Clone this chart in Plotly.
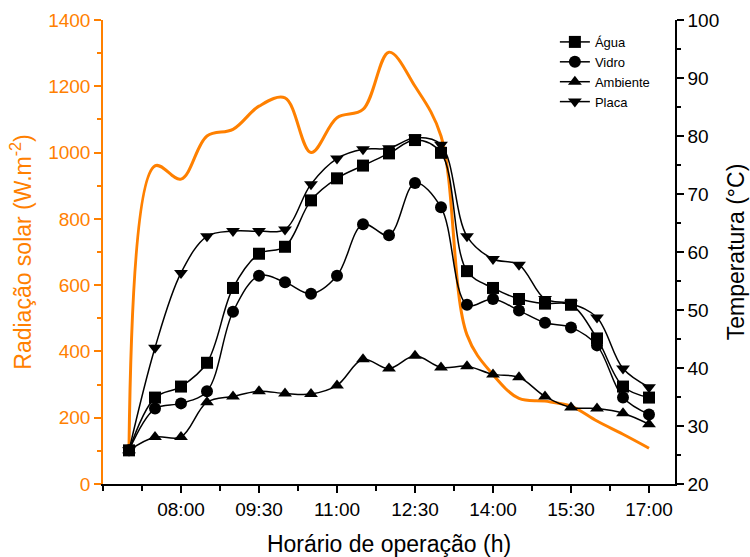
import plotly.graph_objects as go

# time in hours (07:00 .. 17:00, every 30 min)
hours = [7.0, 7.5, 8.0, 8.5, 9.0, 9.5, 10.0, 10.5, 11.0, 11.5, 12.0, 12.5,
         13.0, 13.5, 14.0, 14.5, 15.0, 15.5, 16.0, 16.5, 17.0]

radiacao = [108, 960, 920, 1050, 1070, 1140, 1165, 1000, 1105, 1130, 1303, 1200,
            1050, 450, 330, 258, 250, 235, 190, 150, 108]

agua = [25.8, 34.9, 36.8, 40.9, 53.8, 59.7, 60.9, 68.9, 72.7, 74.9, 77.0, 79.3,
        77.1, 56.7, 53.8, 51.9, 51.1, 50.9, 45.1, 36.8, 34.9]
vidro = [25.8, 33.0, 33.9, 36.0, 49.7, 55.9, 54.8, 52.8, 55.9, 64.8, 62.9, 71.9,
         67.7, 50.9, 51.9, 49.9, 47.8, 47.0, 43.9, 34.9, 32.0]
ambiente = [25.8, 28.1, 28.1, 34.1, 35.1, 36.0, 35.6, 35.5, 37.0, 41.5, 39.9, 42.1,
            40.1, 40.3, 38.9, 38.4, 35.1, 33.2, 33.0, 32.2, 30.3]
placa = [25.8, 43.5, 56.4, 62.7, 63.6, 63.6, 63.9, 71.7, 76.1, 77.7, 77.9, 79.7,
         78.5, 62.7, 58.8, 57.8, 51.9, 51.1, 48.7, 39.9, 36.7]

x_tickvals = [8.0, 9.5, 11.0, 12.5, 14.0, 15.5, 17.0]
x_ticktext = ["08:00", "09:30", "11:00", "12:30", "14:00", "15:30", "17:00"]
x_minorvals = [6.5, 7.25, 8.75, 10.25, 11.75, 13.25, 14.75, 16.25]

ORANGE = "#FF8000"
FONT = "Arial, Liberation Sans, sans-serif"

fig = go.Figure()

fig.add_trace(go.Scatter(
    x=hours, y=radiacao, mode="lines", name="Radiação",
    line=dict(color=ORANGE, width=3, shape="spline", smoothing=1.0),
    showlegend=False, xaxis="x", yaxis="y"))

series = [("Água", agua, "square"), ("Vidro", vidro, "circle"),
          ("Ambiente", ambiente, "triangle-up"), ("Placa", placa, "triangle-down")]
for name, vals, sym in series:
    fig.add_trace(go.Scatter(
        x=hours, y=vals, mode="lines+markers", name=name,
        line=dict(color="black", width=1.5, shape="spline", smoothing=1.0),
        marker=dict(symbol=sym, size=12, color="black"),
        xaxis="x", yaxis="y2"))

fig.update_layout(
    width=750, height=557,
    margin=dict(l=103, r=75, t=20, b=73, autoexpand=False),
    paper_bgcolor="white", plot_bgcolor="white",
    font=dict(family=FONT, size=19, color="black"),
    xaxis=dict(
        range=[6.5, 17.5], tickvals=x_tickvals, ticktext=x_ticktext, automargin=False,
        ticks="outside", ticklen=7, tickwidth=1.5, tickcolor="black",
        minor=dict(tickvals=x_minorvals, ticks="outside", ticklen=5, tickwidth=1.5, tickcolor="black"),
        showline=True, linecolor="black", linewidth=1.5, showgrid=False, zeroline=False,
        title=dict(text="Horário de operação (h)", font=dict(size=23), standoff=17),
    ),
    xaxis2=dict(
        overlaying="x", side="top", anchor="y", range=[0, 10], dtick=1, automargin=False,
        ticks="inside", ticklen=6, tickwidth=1.5, tickcolor="black",
        showticklabels=False, showline=True, linecolor="black", linewidth=1.5,
        showgrid=False, zeroline=False,
    ),
    yaxis=dict(
        range=[0, 1400], dtick=200, ticks="outside", ticklen=7, tickwidth=1.5, automargin=False,
        tickcolor=ORANGE, tickfont=dict(color=ORANGE),
        minor=dict(dtick=100, ticks="outside", ticklen=4, tickwidth=1.5, tickcolor=ORANGE),
        showline=True, linecolor=ORANGE, linewidth=1.5, showgrid=False, zeroline=False,
        title=dict(text="Radiação solar (W.m<sup>-2</sup>)", font=dict(size=23, color=ORANGE), standoff=10),
    ),
    yaxis2=dict(
        overlaying="y", side="right", anchor="x", range=[20, 100], dtick=10, automargin=False,
        ticks="outside", ticklen=7, tickwidth=1.5, tickcolor="black",
        minor=dict(dtick=5, ticks="outside", ticklen=4, tickwidth=1.5, tickcolor="black"),
        showline=True, linecolor="black", linewidth=1.5, showgrid=False, zeroline=False,
        title=dict(text="Temperatura (°C)", font=dict(size=23), standoff=10),
    ),
    legend=dict(x=0.79, y=0.985, xanchor="left", yanchor="top",
                bgcolor="rgba(0,0,0,0)", font=dict(size=13), tracegroupgap=0,
                itemwidth=30),
)

fig.write_html("out.html")
